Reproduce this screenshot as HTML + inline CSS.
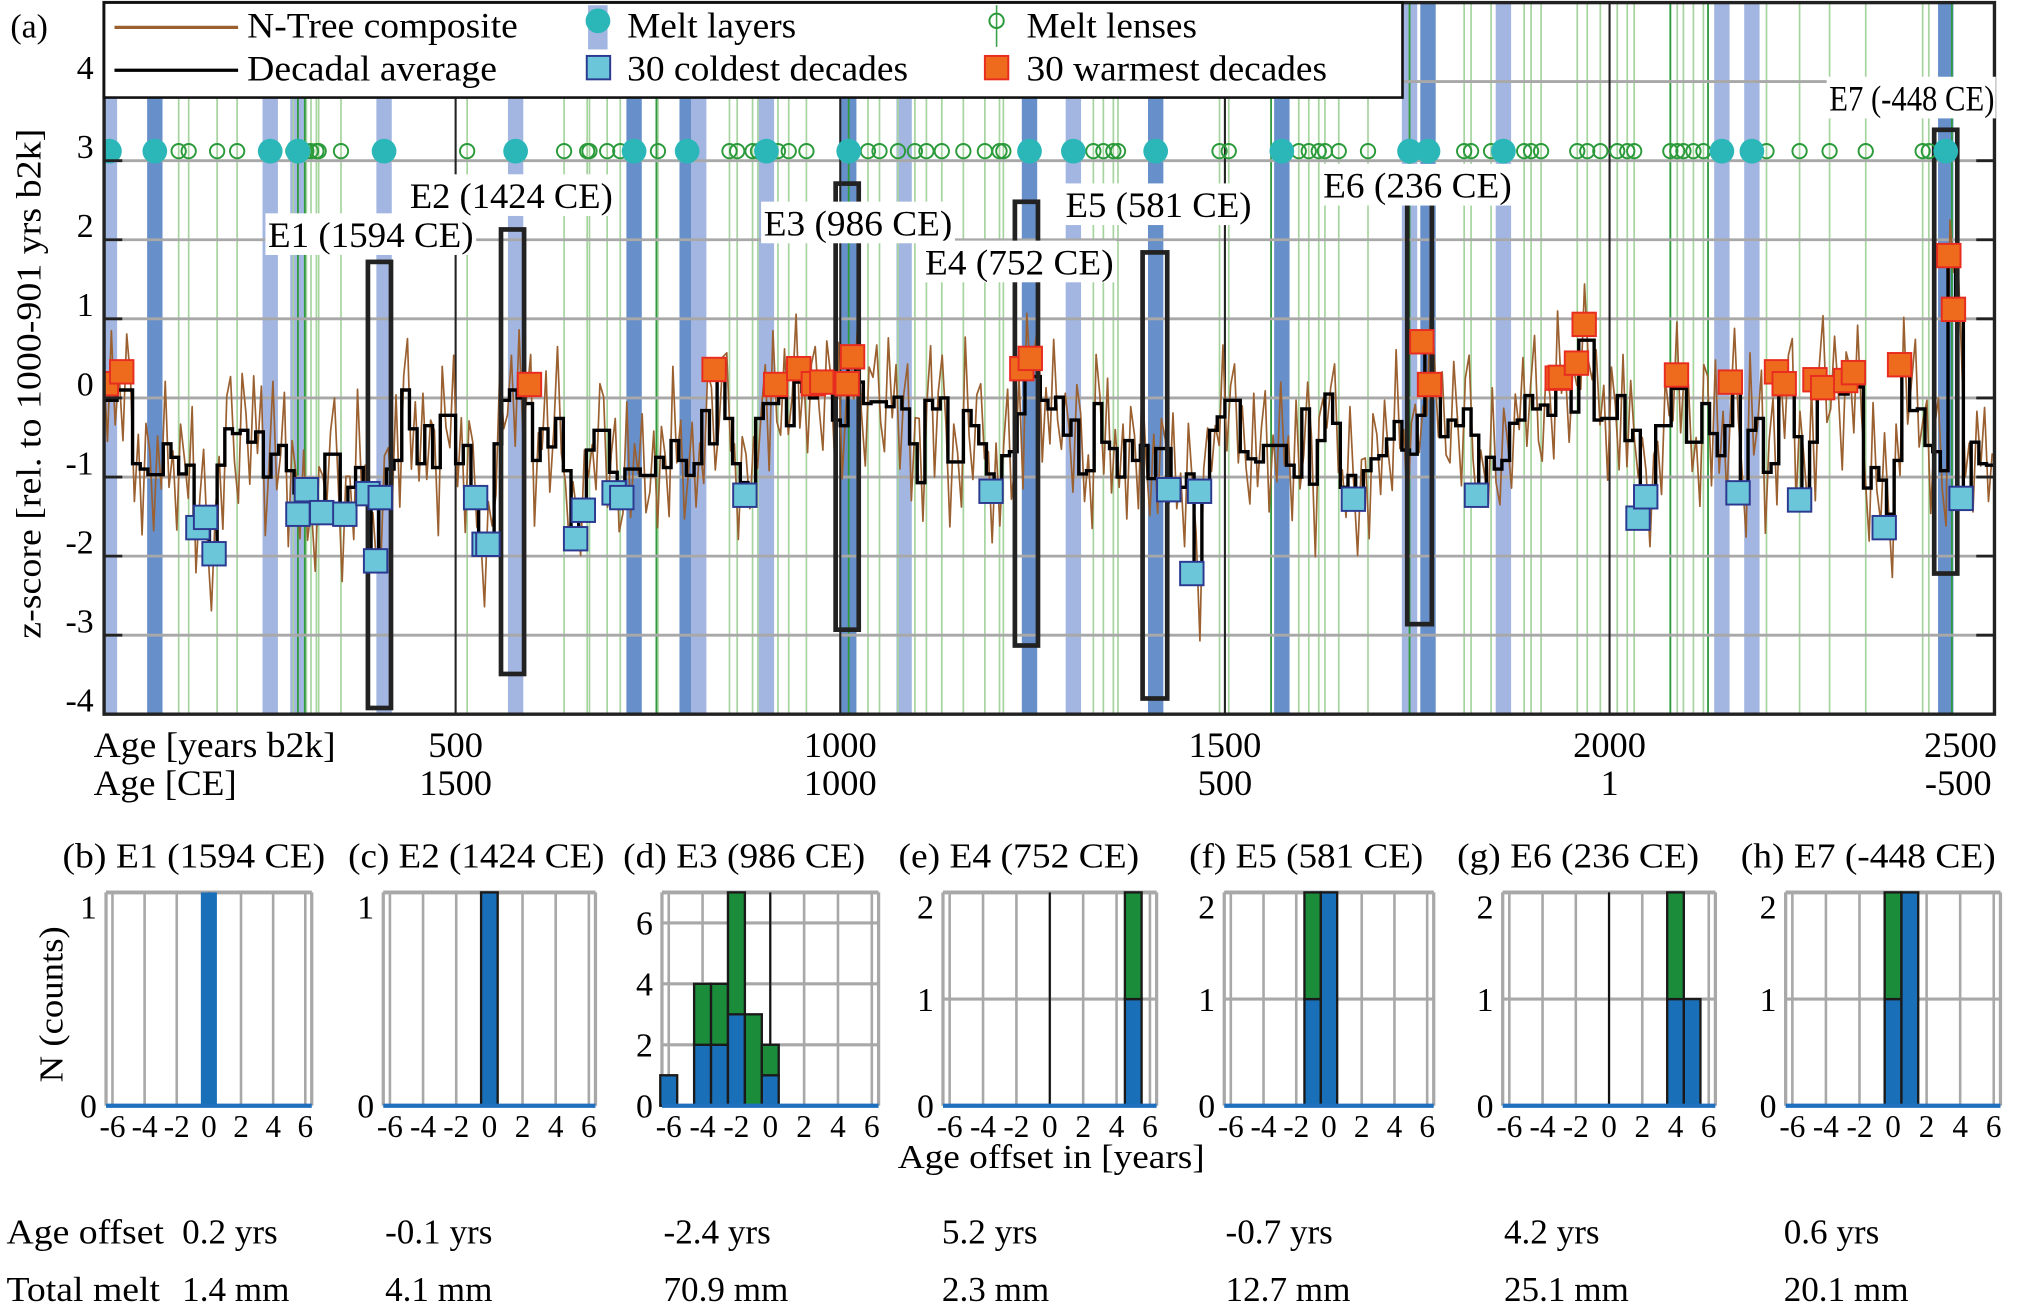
<!DOCTYPE html>
<html>
<head>
<meta charset="utf-8">
<style>
html,body{margin:0;padding:0;background:#fff}
svg{display:block;font-family:"Liberation Serif",serif}
</style>
</head>
<body>
<svg id="fig" xmlns="http://www.w3.org/2000/svg" width="2040" height="1304" viewBox="0 0 1568 1002.4" preserveAspectRatio="none">
<rect x="0" y="0" width="1568" height="1002.4" fill="#fff"/>
<defs><clipPath id="plotclip"><rect x="80" y="2" width="1453" height="547"/></clipPath></defs>
<g id="main" clip-path="url(#plotclip)">
  <g id="bands"></g>
  <g id="greens"></g>
  <g id="grid"></g>
  <g id="series"></g>
  <g id="boxes"></g>
  <g id="markers"></g>
</g>
<g id="axes"></g>

<g font-size="28">
  <rect x="204" y="164" width="162" height="32" fill="#fff"/>
  <text x="206" y="190" textLength="158" lengthAdjust="spacingAndGlyphs">E1 (1594 CE)</text>
  <rect x="313" y="134" width="160" height="32" fill="#fff"/>
  <text x="315" y="160" textLength="156" lengthAdjust="spacingAndGlyphs">E2 (1424 CE)</text>
  <rect x="585" y="155" width="149" height="32" fill="#fff"/>
  <text x="587" y="181" textLength="145" lengthAdjust="spacingAndGlyphs">E3 (986 CE)</text>
  <rect x="709" y="185" width="149" height="32" fill="#fff"/>
  <text x="711" y="211" textLength="145" lengthAdjust="spacingAndGlyphs">E4 (752 CE)</text>
  <rect x="817" y="141" width="147" height="32" fill="#fff"/>
  <text x="819" y="167" textLength="143" lengthAdjust="spacingAndGlyphs">E5 (581 CE)</text>
  <rect x="1015" y="126" width="149" height="32" fill="#fff"/>
  <text x="1017" y="152" textLength="145" lengthAdjust="spacingAndGlyphs">E6 (236 CE)</text>
  <rect x="1404" y="59" width="130" height="32" fill="#fff"/>
  <text x="1406" y="85" textLength="127" lengthAdjust="spacingAndGlyphs">E7 (-448 CE)</text>
</g>

<g font-size="28">
  <rect x="80" y="2" width="998" height="73" fill="#fff" stroke="#111" stroke-width="2"/>
  <line x1="88" y1="21" x2="183" y2="21" stroke="#9b6030" stroke-width="2.5"/>
  <text x="190" y="29" textLength="208" lengthAdjust="spacingAndGlyphs">N-Tree composite</text>
  <line x1="88" y1="54" x2="183" y2="54" stroke="#000" stroke-width="2.5"/>
  <text x="190" y="62" textLength="192" lengthAdjust="spacingAndGlyphs">Decadal average</text>
  <rect x="452" y="4" width="15" height="34" fill="#a3b6e1"/>
  <circle cx="459.6" cy="16" r="9.5" fill="#2bb7b8"/>
  <text x="482" y="29" textLength="130" lengthAdjust="spacingAndGlyphs">Melt layers</text>
  <rect x="451" y="43" width="18" height="18" fill="#6cc6d9" stroke="#2b3990" stroke-width="1.5"/>
  <text x="482" y="62" textLength="216" lengthAdjust="spacingAndGlyphs">30 coldest decades</text>
  <line x1="766" y1="4" x2="766" y2="36" stroke="#3aa04a" stroke-width="1.2"/>
  <circle cx="766" cy="16" r="5.5" fill="none" stroke="#2a9a3a" stroke-width="1.5"/>
  <text x="789" y="29" textLength="131" lengthAdjust="spacingAndGlyphs">Melt lenses</text>
  <rect x="757" y="43" width="18" height="18" fill="#ee6b1e" stroke="#e82c1f" stroke-width="1.5"/>
  <text x="789" y="62" textLength="231" lengthAdjust="spacingAndGlyphs">30 warmest decades</text>
</g>

<text x="8" y="29" font-size="26">(a)</text>
<text transform="translate(31,295) rotate(-90)" text-anchor="middle" font-size="27" textLength="392" lengthAdjust="spacingAndGlyphs">z-score  [rel. to 1000-901 yrs b2k]</text>
<text x="72" y="582" font-size="28" textLength="186" lengthAdjust="spacingAndGlyphs">Age [years b2k]</text>
<text x="72" y="611" font-size="28" textLength="110" lengthAdjust="spacingAndGlyphs">Age [CE]</text>

<g id="hists"></g>
<text transform="translate(48,772) rotate(-90)" text-anchor="middle" font-size="26" textLength="120" lengthAdjust="spacingAndGlyphs">N (counts)</text>
<text x="690" y="898" font-size="26" textLength="236" lengthAdjust="spacingAndGlyphs">Age offset in [years]</text>

<g font-size="27">
  <text x="5" y="956" textLength="121" lengthAdjust="spacingAndGlyphs">Age offset</text>
  <text x="5" y="1000" textLength="118" lengthAdjust="spacingAndGlyphs">Total melt</text>
</g>
<g id="table" font-size="27"></g>

<script>
// ---------- DATA ----------
const decadeStartAge = 40;
const decadeStep = 10;
const decadalValues = [-0.03,-0.03,0.1,0.1,-0.83,-0.9,-0.97,-0.97,-0.58,-0.75,
-0.96,-0.85,-1.6,-1.6,-2.0,-0.85,-0.39,-0.45,-0.41,-0.56,
-0.43,-1.0,-0.71,-0.6,-0.92,-1.2,-1.47,-1.42,-1.42,-0.71,
-0.71,-1.47,-1.13,-0.88,-1.21,-2.06,-1.26,-0.9,-0.79,0.1,
-0.39,-0.83,-0.35,-0.88,-0.22,-0.22,-0.83,-0.6,-1.26,-1.85,
-1.85,-0.58,-0.03,0.1,0.0,-0.07,-0.79,-0.39,-0.62,-0.26,
-0.92,-1.72,-1.47,-0.66,-0.41,-0.41,-0.94,-1.3,-0.9,-0.9,
-0.98,-0.98,-0.75,-0.88,-0.54,-0.79,-0.98,-0.83,-0.16,-0.58,
0.35,-0.26,-0.83,-1.07,-1.23,-0.26,-0.07,-0.07,0.01,-0.35,
0.2,0.08,0,0.18,0.2,-0.28,-0.35,0.52,0.2,-0.07,
-0.05,-0.05,-0.11,0.01,-0.14,-0.58,-1.07,-0.03,-0.14,0,
-0.81,-0.81,-0.16,-0.35,-0.58,-0.96,-1.2,-0.73,-0.68,-0.2,
0.48,0.27,-0.03,-0.14,0.01,-0.47,-0.28,-0.96,-0.92,-0.07,
-0.56,-0.64,-1.0,-0.54,-0.79,-0.6,-1.02,-0.64,-0.64,-1.13,
-1.13,-0.96,-2.19,-1.17,-0.41,-0.24,-0.03,-0.03,-0.68,-0.77,
-0.81,-0.6,-0.6,-0.6,-0.85,-1.0,-0.14,-1.09,-0.54,0.05,
-0.32,-1.13,-0.98,-1.26,-0.92,-0.77,-0.73,-0.52,-0.3,-0.66,
-0.71,-0.22,0.71,0.18,-0.49,-0.28,-0.35,-0.14,-0.47,-1.17,
-0.75,-0.9,-0.79,-0.32,-0.28,0.03,-0.14,-0.09,-0.22,0.25,
0.27,-0.18,0.73,0.73,-0.28,-0.26,-0.26,0.03,-0.54,-0.41,
-1.17,-1.17,-0.35,-0.35,0.12,0.12,-0.56,-0.56,-0.07,-0.45,
-0.73,-0.35,0.14,-1.13,-0.41,-0.26,-0.94,-0.83,0.18,0.18,
-0.49,-1.21,-0.56,0.18,0.14,0.14,0.05,0.14,0.14,-1.14,
-0.88,-1.04,-1.47,-0.79,0.29,-0.16,-0.14,-0.6,-0.68,-0.92,
1.75,1.1,-1.2,-0.56,-0.83,-0.85];

const annualDeviation = [.45,-.52,.88,-.31,.22,-.64,.71,.12,-.48,.37,-.83,.58,.29,-.71,.49,-.18,.79,-.55,.08,-.92,
.63,.19,-.42,.74,-.61,.33,.95,-.24,-.69,.52,.11,-.81,.41,.66,-.35,-.88,.72,.21,-.53,.84,
-.27,.58,-.74,.16,.92,-.45,-.12,.67,-.96,.38,.25,-.58,.81,-.33,.04,-.77,.55,.43,-.62,.29,
.71,-.39,-.85,.48,.14,-.66,.99,-.21,.36,-.73,.61,-.08,-.94,.53,.27,-.47,.83,-.59,.18,.65,
-.51,.34,-.22,.89,-.68,.07,.47,-.86,.62,-.15,-.41,.76,-.29,.58,-1.1,.31,.69,-.37,.13,-.79,
.54,.23,-.64,.97,-.36,-.18,.44,-.71,.86,-.49,.09,.62,-.83,.35,-.26,.73,-.57,.19,.91,-.44,
-.13,-.88,.66,.28,-.52,.81,-.34,.07,-.75,.59,.42,-.97,.24,.68,-.39,-.16,.85,-.61,.32,-.06,
.78,-.47,-.21,.56,-.89,.39,.15,-.62,.94,-.28,.51,-.74,.03,.67,-.55,.26,-.92,.48,.72,-.33,
-.69,.17,.83,-.41,.25,-.96,.58,.36,-.17,.74,-.63,.11,.49,-.85,.92,-.23,-.48,.61,-.11,.37,
.86,-.58,.21,-.77,.43,.65,-.31,-.84,.52,.09,-.45,.98,-.67,.27,.14,-.53,.76,-.38,-.79,.46,
.31,.72,-.26,-.63,.87,-.14,.41,-.91,.18,.57,-.72,.33,.81,-.49,-.05,.69,-.86,.22,.54,-.37,
-.82,.48,.12,-.57,.93,-.32,-.68,.39,.76,-.19,.28,-.87,.63,-.42,.15,.84,-.6,-.11,.47,-.95,
.59,-.24,.35,.71,-.78,.16,-.44,.88,-.29,-.66,.53,.07,-.91,.45,.77,-.35,.2,-.73,.62,.1,
-.4,.81,-.56,.24,-.13,.67,-.99,.43,.32,-.61,.85,-.18,-.47,.56,-.82,.38,.11,-.69,.94,-.27,
.18,-.75,.64,-.09,.5,-.88,.27,.79,-.52,.06,-.36,.91,-.64,.19,.46,-.79,.58,-.21,-.57,.83,
-.31,.44,.69,-.84,.13,-.46,.8,-.25,.37,-.7,.97,-.15,-.58,.34,.61,-.92,.29,.53,-.43,.08,
.75,-.62,.22,-.38,.87,-.1,-.73,.48,.16,-.86,.57,.31,-.49,.7,-.2,-.65,.91,-.34,.26,-.8,
.4,.63,-.47,.12,-.93,.55,.3,-.67,.82,-.23,-.54,.74,.05,-.76,.39,.68,-.3,-.89,.51,.2,
-.59,.88,-.17,-.45,.66,.23,-.82,.37,-.12,.79,-.64,.14,.93,-.4,-.71,.47,.26,-.55,.85,-.19,
.09,-.83,.58,.34,-.62,.71,-.27,-.5,.89,-.06,.42,-.78,.65,.17,-.94,.52,-.33,.76,-.14,-.6,
.67,.25,-.71,.45,-.2,-.87,.6,.13,-.41,.84,-.56,.29,.72,-.37,.06,-.81,.49,.35,-.66,.93,
-.22,.56,-.9,.27,.74,-.43,.18,-.63,.98,-.31,-.08,.61,-.77,.4,.83,-.52,.14,-.69,.36,.57,
-.85,.32,.47,-.16,.69,-.74,.21,.86,-.45,-.28,.64,-.1,-.96,.53,.24,-.58,.78,-.35,.11,-.67,
.82,-.29,-.53,.6,.08,-.8,.46,-.19,.73,-.62,.35,.9,-.48,-.14,.57,-.86,.31,.68,-.24,-.7,
.5,-.16,.77,-.57,.2,.63,-.88,.39,-.03,.71,-.46,.15,.87,-.6,-.32,.54,-.79,.28,.66,-.41];

const coldAges = [165,175,186,295,306,326,356,386,396,402,526,537,542,656,666,706,716,876,1196,1427,1457,1467,1667,1827,2037,2047,2167,2247,2357,2457];
const coldValues = [-1.64,-1.51,-1.97,-1.47,-1.16,-1.45,-1.47,-1.21,-2.06,-1.26,-1.26,-1.85,-1.85,-1.78,-1.42,-1.2,-1.26,-1.23,-1.18,-1.16,-2.22,-1.18,-1.28,-1.23,-1.52,-1.25,-1.2,-1.29,-1.64,-1.27];
const warmAges = [46,66,596,836,916,946,965,976,1009,1016,1236,1247,1756,1766,1932,1936,1957,1967,2087,2157,2217,2227,2267,2277,2307,2317,2377,2441,2447];
const warmValues = [0.18,0.33,0.17,0.36,0.17,0.37,0.18,0.2,0.18,0.52,0.37,0.5,0.71,0.17,0.25,0.26,0.44,0.93,0.29,0.2,0.33,0.18,0.23,0.13,0.22,0.32,0.42,1.8,1.12];

const meltLayerAges = [50,109,259,295,407,578,732,801,904,1011,1246,1303,1410,1574,1740,1764,1862,2146,2185,2437];
const meltLayerBand = ['light','dark','light','light','light','light','dark','dark','light','dark','dark','light','dark','dark','light','dark','light','light','light','dark'];
const extraBandAges = [1083,816];
const extraBandType = ['light','light'];
const meltLensAges = [140,153,190,216,289,306,312,319,322,351,515,641,671,674,697,714,763,856,866,886,893,919,933,956,1036,1051,1075,1097,1112,1132,1160,1188,1207,1212,1329,1342,1355,1361,1493,1505,1596,1609,1622,1630,1648,1686,1811,1820,1846,1889,1898,1911,1958,1971,1988,2010,2023,2032,2079,2088,2096,2109,2122,2204,2247,2286,2333,2407,2415];
const darkLensLineAges = [295,304,761,1011,1560,1740,2079,2128,2445];
const majorAgeLines = [500,1000,1500,2000];

const eventNames = ['E1','E2','E3','E4','E5','E6','E7'];
const eventAgeStart = [386,559,994,1227,1393,1737,2422];
const eventAgeEnd = [416,589,1024,1257,1425,1769,2452];
const eventTop = [1.72,2.13,2.71,2.48,1.84,2.47,3.39];
const eventBottom = [-3.92,-3.49,-2.93,-3.13,-3.8,-2.86,-2.22];

const yTickValues = [-4,-3,-2,-1,0,1,2,3,4];
const gridValues = [-3,-2,-1,0,1,2,3,4];
const xTickAges = [500,1000,1500,2000,2500];
const xTickLabelsB2k = ['500','1000','1500','2000','2500'];
const xTickLabelsCE = ['1500','1000','500','1','-500'];

// histogram data (bins -6..6)
const histBins = [-6,-5,-4,-3,-2,-1,0,1,2,3,4,5,6];
const histTitles = ['(b) E1 (1594 CE)','(c) E2 (1424 CE)','(d) E3 (986 CE)','(e) E4 (752 CE)','(f) E5 (581 CE)','(g) E6 (236 CE)','(h) E7 (-448 CE)'];
const histBlue = [
 [0,0,0,0,0,0,1,0,0,0,0,0,0],
 [0,0,0,0,0,0,1,0,0,0,0,0,0],
 [1,0,2,2,3,0,1,0,0,0,0,0,0],
 [0,0,0,0,0,0,0,0,0,0,0,1,0],
 [0,0,0,0,0,1,2,0,0,0,0,0,0],
 [0,0,0,0,0,0,0,0,0,0,1,1,0],
 [0,0,0,0,0,0,1,2,0,0,0,0,0]];
const histGreen = [
 [0,0,0,0,0,0,0,0,0,0,0,0,0],
 [0,0,0,0,0,0,0,0,0,0,0,0,0],
 [0,0,2,2,4,3,1,0,0,0,0,0,0],
 [0,0,0,0,0,0,0,0,0,0,0,1,0],
 [0,0,0,0,0,1,0,0,0,0,0,0,0],
 [0,0,0,0,0,0,0,0,0,0,1,0,0],
 [0,0,0,0,0,0,1,0,0,0,0,0,0]];
const histYMax = [1,1,7,2,2,2,2];
const histYTicks = [[0,1],[0,1],[0,2,4,6],[0,1,2],[0,1,2],[0,1,2],[0,1,2]];
const histXTicks = [-6,-4,-2,0,2,4,6];
const ageOffsetLabels = ['0.2 yrs','-0.1 yrs','-2.4 yrs','5.2 yrs','-0.7 yrs','4.2 yrs','0.6 yrs'];
const totalMeltLabels = ['1.4 mm','4.1 mm','70.9 mm','2.3 mm','12.7 mm','25.1 mm','20.1 mm'];

// ---------- LAYOUT ----------
const NS = "http://www.w3.org/2000/svg";
function mk(parent, tag, attrs){ const e=document.createElementNS(NS,tag); for(const k in attrs) e.setAttribute(k,attrs[k]); parent.appendChild(e); return e; }
const X = a => 350.2 + (a-500)*0.5913;
const Y = v => 305.9 - 60.8*v;
const PL=80, PR=1533, PT=2, PB=549;
const bandYears = 20;
const g = id => document.getElementById(id);

// bands
const allBandAges = meltLayerAges.concat(extraBandAges);
const allBandTypes = meltLayerBand.concat(extraBandType);
allBandAges.forEach((a,i)=>{
  const el = mk(g('bands'),'rect',{x:X(a-bandYears/2),y:PT,width:X(a+bandYears/2)-X(a-bandYears/2),height:PB-PT,fill:allBandTypes[i]==='dark'?'#6790cb':'#a3b6e1'});
  
  
});
// green lens lines
meltLensAges.forEach(a=>{
  const el = mk(g('greens'),'line',{x1:X(a),x2:X(a),y1:PT,y2:PB,stroke:'#a6d49f','stroke-width':1.3});
  
  
});
darkLensLineAges.forEach(a=>{
  const el = mk(g('greens'),'line',{x1:X(a),x2:X(a),y1:PT,y2:PB,stroke:'#2f9a3e','stroke-width':1.4});
  
  
});
// grid
gridValues.forEach(v=>{
  const el = mk(g('grid'),'line',{x1:PL,x2:PR,y1:Y(v),y2:Y(v),stroke:'#a8a8a8','stroke-width':2.2});
  
  
});
majorAgeLines.forEach(a=>{
  const el = mk(g('grid'),'line',{x1:X(a),x2:X(a),y1:PT,y2:PB,stroke:'#222','stroke-width':1.6});
  
  
});
// brown annual series
let bp = '';
decadalValues.forEach((d,k)=>{
  const a0 = decadeStartAge + k*decadeStep;
  const v1 = d + annualDeviation[2*k], v2 = d + annualDeviation[2*k+1];
  bp += (k===0?'M':'L') + X(a0+2.5).toFixed(1)+','+Y(v1).toFixed(1)+'L'+X(a0+7.5).toFixed(1)+','+Y(v2).toFixed(1);
});
const brown = mk(g('series'),'path',{d:bp,fill:'none',stroke:'#9b6030','stroke-width':1.3,'stroke-linejoin':'round'});


// decadal step line
let dp = '';
decadalValues.forEach((d,k)=>{
  const a0 = decadeStartAge + k*decadeStep;
  dp += (k===0?'M'+X(a0).toFixed(1)+','+Y(d).toFixed(1):'V'+Y(d).toFixed(1)) + 'H' + X(a0+decadeStep).toFixed(1);
});
const dec = mk(g('series'),'path',{d:dp,fill:'none',stroke:'#000','stroke-width':2.6});


// event boxes
eventNames.forEach((n,i)=>{
  const el = mk(g('boxes'),'rect',{x:X(eventAgeStart[i]),y:Y(eventTop[i]),width:X(eventAgeEnd[i])-X(eventAgeStart[i]),height:Y(eventBottom[i])-Y(eventTop[i]),fill:'none',stroke:'#222','stroke-width':3.6});
  
  
});
// squares
const sq = 18;
coldAges.forEach((a,i)=>{
  const el = mk(g('markers'),'rect',{x:X(a)-sq/2,y:Y(coldValues[i])-sq/2,width:sq,height:sq,fill:'#6cc6d9',stroke:'#2b3990','stroke-width':1.5});
  
  
});
warmAges.forEach((a,i)=>{
  const el = mk(g('markers'),'rect',{x:X(a)-sq/2,y:Y(warmValues[i])-sq/2,width:sq,height:sq,fill:'#ee6b1e',stroke:'#e82c1f','stroke-width':1.5});
  
  
});
const markerLevel = 3.12;
meltLensAges.forEach(a=>{
  const el = mk(g('markers'),'circle',{cx:X(a),cy:Y(markerLevel),r:5.5,fill:'none',stroke:'#2a9a3a','stroke-width':1.5});
  
  
});
meltLayerAges.forEach(a=>{
  const el = mk(g('markers'),'circle',{cx:X(a),cy:Y(markerLevel),r:9.5,fill:'#2bb7b8'});
  
  
});
// axes
const ax = g('axes');
const frame = mk(ax,'rect',{x:PL,y:PT,width:PR-PL,height:PB-PT,fill:'none',stroke:'#222','stroke-width':2.6});


gridValues.forEach(v=>{
  const t1 = mk(ax,'line',{x1:PL,x2:PL+14,y1:Y(v),y2:Y(v),stroke:'#222','stroke-width':2.2});
  
  
  const t2 = mk(ax,'line',{x1:PR-14,x2:PR,y1:Y(v),y2:Y(v),stroke:'#222','stroke-width':2.2});
  
  
});
yTickValues.forEach(v=>{
  const t = mk(ax,'text',{x:72,y:Y(v)-2,'text-anchor':'end','font-size':26});
  t.textContent = String(v);
  
  
});
xTickAges.forEach((a,i)=>{
  const anchor = i===xTickAges.length-1 ? 'end':'middle';
  const xx = i===xTickAges.length-1 ? X(a)+2 : X(a);
  const t1 = mk(ax,'text',{x:xx,y:582,'text-anchor':anchor,'font-size':28});
  t1.textContent = xTickLabelsB2k[i];
  
  
  const t2 = mk(ax,'text',{x:i===xTickAges.length-1?X(a)-2:X(a),y:611,'text-anchor':anchor,'font-size':28});
  t2.textContent = xTickLabelsCE[i];
  
  
});

// ---------- HISTOGRAMS ----------
const panelLeft = [81.5,294.6,508.8,724.8,941,1155,1372.5];
const panelRight = [239.6,457.7,675.3,889,1102,1318.5,1537.6];
const titleX = [48,267.6,479,690.6,914,1120,1338];
const titleW = [202,197,186,185,180,186,196];
const tableX = [140,296,510,724,942,1156,1371];
const HT=686, HB=850, XMIN=-6.4, XMAX=6.4;
const H = g('hists');
histTitles.forEach((title,p)=>{
  const L=panelLeft[p], R=panelRight[p];
  const hx = v => L + (v-XMIN)/(XMAX-XMIN)*(R-L);
  const hy = c => HB - c/histYMax[p]*(HB-HT);
  const pg = mk(H,'g',{});
  
  
  const tt = mk(pg,'text',{x:titleX[p],y:667,'font-size':27,textLength:titleW[p],lengthAdjust:'spacingAndGlyphs'});
  tt.textContent = title;
  
  
  histXTicks.forEach(v=>{
    const gl = mk(pg,'line',{x1:hx(v),x2:hx(v),y1:HT,y2:HB,stroke:'#a8a8a8','stroke-width':2});
    
    
    const tl = mk(pg,'text',{x:hx(v),y:874,'text-anchor':'middle','font-size':24});
    tl.textContent = String(v);
    
    
  });
  histYTicks[p].forEach(c=>{
    if(c>0){
      const gl = mk(pg,'line',{x1:L,x2:R,y1:hy(c),y2:hy(c),stroke:'#a8a8a8','stroke-width':2.4});
      
      
    }
    const ly = c===histYMax[p] ? hy(c)+20 : (c===0 ? HB+9 : hy(c)+9);
    const tl = mk(pg,'text',{x:L-7,y:ly,'text-anchor':'end','font-size':26});
    tl.textContent = String(c);
    
    
  });
  const top = mk(pg,'line',{x1:L,x2:R,y1:HT,y2:HT,stroke:'#a8a8a8','stroke-width':3});
  
  
  const lf = mk(pg,'line',{x1:L,x2:L,y1:HT,y2:HB,stroke:'#a8a8a8','stroke-width':2.5});
  
  
  const rf = mk(pg,'line',{x1:R,x2:R,y1:HT,y2:HB,stroke:'#a8a8a8','stroke-width':2.5});
  
  
  const zl = mk(pg,'line',{x1:hx(0),x2:hx(0),y1:HT,y2:HB,stroke:'#111','stroke-width':1.6});
  
  
  const outline = p===0 ? 'none' : '#1a1a1a';
  histBins.forEach((b,i)=>{
    const nb = histBlue[p][i], ng = histGreen[p][i];
    if(nb>0){
      const r = mk(pg,'rect',{x:hx(b-0.5),y:hy(nb),width:hx(b+0.5)-hx(b-0.5),height:HB-hy(nb),fill:'#1a70b8',stroke:outline,'stroke-width':1.8});
      
      
    }
    if(ng>0){
      const r = mk(pg,'rect',{x:hx(b-0.5),y:hy(nb+ng),width:hx(b+0.5)-hx(b-0.5),height:hy(nb)-hy(nb+ng),fill:'#1b8c3a',stroke:outline,'stroke-width':1.8});
      
      
    }
  });
  const base = mk(pg,'line',{x1:L,x2:R,y1:HB,y2:HB,stroke:'#1f6fbf','stroke-width':3.2});
  
  
  const t1 = mk(g('table'),'text',{x:tableX[p],y:956});
  t1.textContent = ageOffsetLabels[p];
  
  
  const t2 = mk(g('table'),'text',{x:tableX[p],y:1000});
  t2.textContent = totalMeltLabels[p];
  
  
});
</script>
</svg>
</body>
</html>
